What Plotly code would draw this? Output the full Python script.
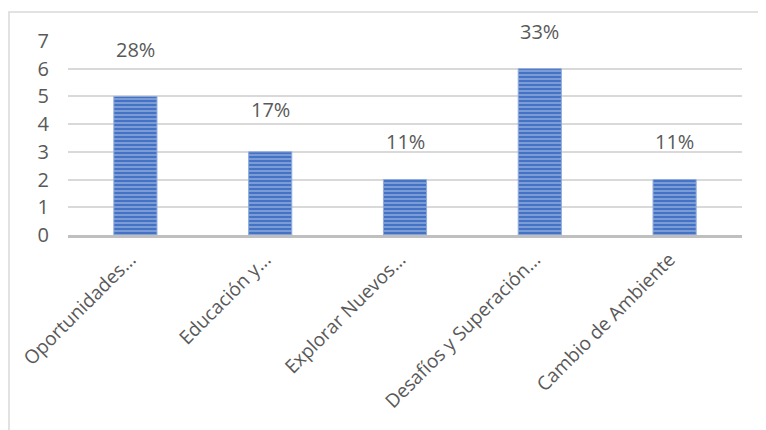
import plotly.graph_objects as go

categories = ["Oportunidades...", "Educación y...", "Explorar Nuevos...",
              "Desafíos y Superación...", "Cambio de Ambiente"]
values = [5, 3, 2, 6, 2]
y_ticks = [0, 1, 2, 3, 4, 5, 6, 7]

total = sum(values)
pct_labels = [f"{round(v / total * 100)}%" for v in values]

FONT = "Open Sans"
TXT = "#595959"

fig = go.Figure()
fig.add_trace(go.Bar(
    x=categories, y=values,
    marker=dict(
        color="#4472C4",
        line=dict(color="#8FAADC", width=1),
        pattern=dict(shape="-", bgcolor="#4472C4", fgcolor="#D5DFF2",
                     size=4, solidity=0.38),
    ),
    hoverinfo="skip",
))

label_shift = [47, 42, 38, 37, 38]
for c, v, t, s in zip(categories, values, pct_labels, label_shift):
    fig.add_annotation(x=c, y=v, text=t, showarrow=False, yshift=s,
                       font=dict(family=FONT, size=20, color=TXT))

# page body has an 8px margin, so the figure starts at (8, 8)
W, H = 758, 422
L, R, T, B = 60, 24, 33, 195
pw, ph = W - L - R, H - T - B
fig.add_shape(type="rect", xref="paper", yref="paper",
              x0=(1 - L) / pw, x1=1.5, y0=-2, y1=1 + (T - 4) / ph,
              line=dict(color="#D9D9D9", width=1.5), layer="below")

fig.update_layout(
    width=W, height=H,
    margin=dict(l=L, r=R, t=T, b=B),
    paper_bgcolor="white", plot_bgcolor="white",
    bargap=0.68, showlegend=False,
    font=dict(family=FONT, color=TXT),
)
fig.update_xaxes(
    tickangle=-45, automargin=False, showgrid=False,
    showline=True, linecolor="#BFBFBF", linewidth=3,
    tickfont=dict(family=FONT, size=19, color=TXT), ticks="",
    ticklabelshift=-5, ticklabelstandoff=3,
)
fig.update_yaxes(
    range=[0, 7], tickvals=y_ticks, automargin=False,
    showgrid=True, gridcolor="#D9D9D9", gridwidth=1.5,
    zeroline=False, showline=False, ticks="",
    tickfont=dict(family=FONT, size=20, color=TXT), ticklabelstandoff=18,
)

fig.write_html("out.html")
